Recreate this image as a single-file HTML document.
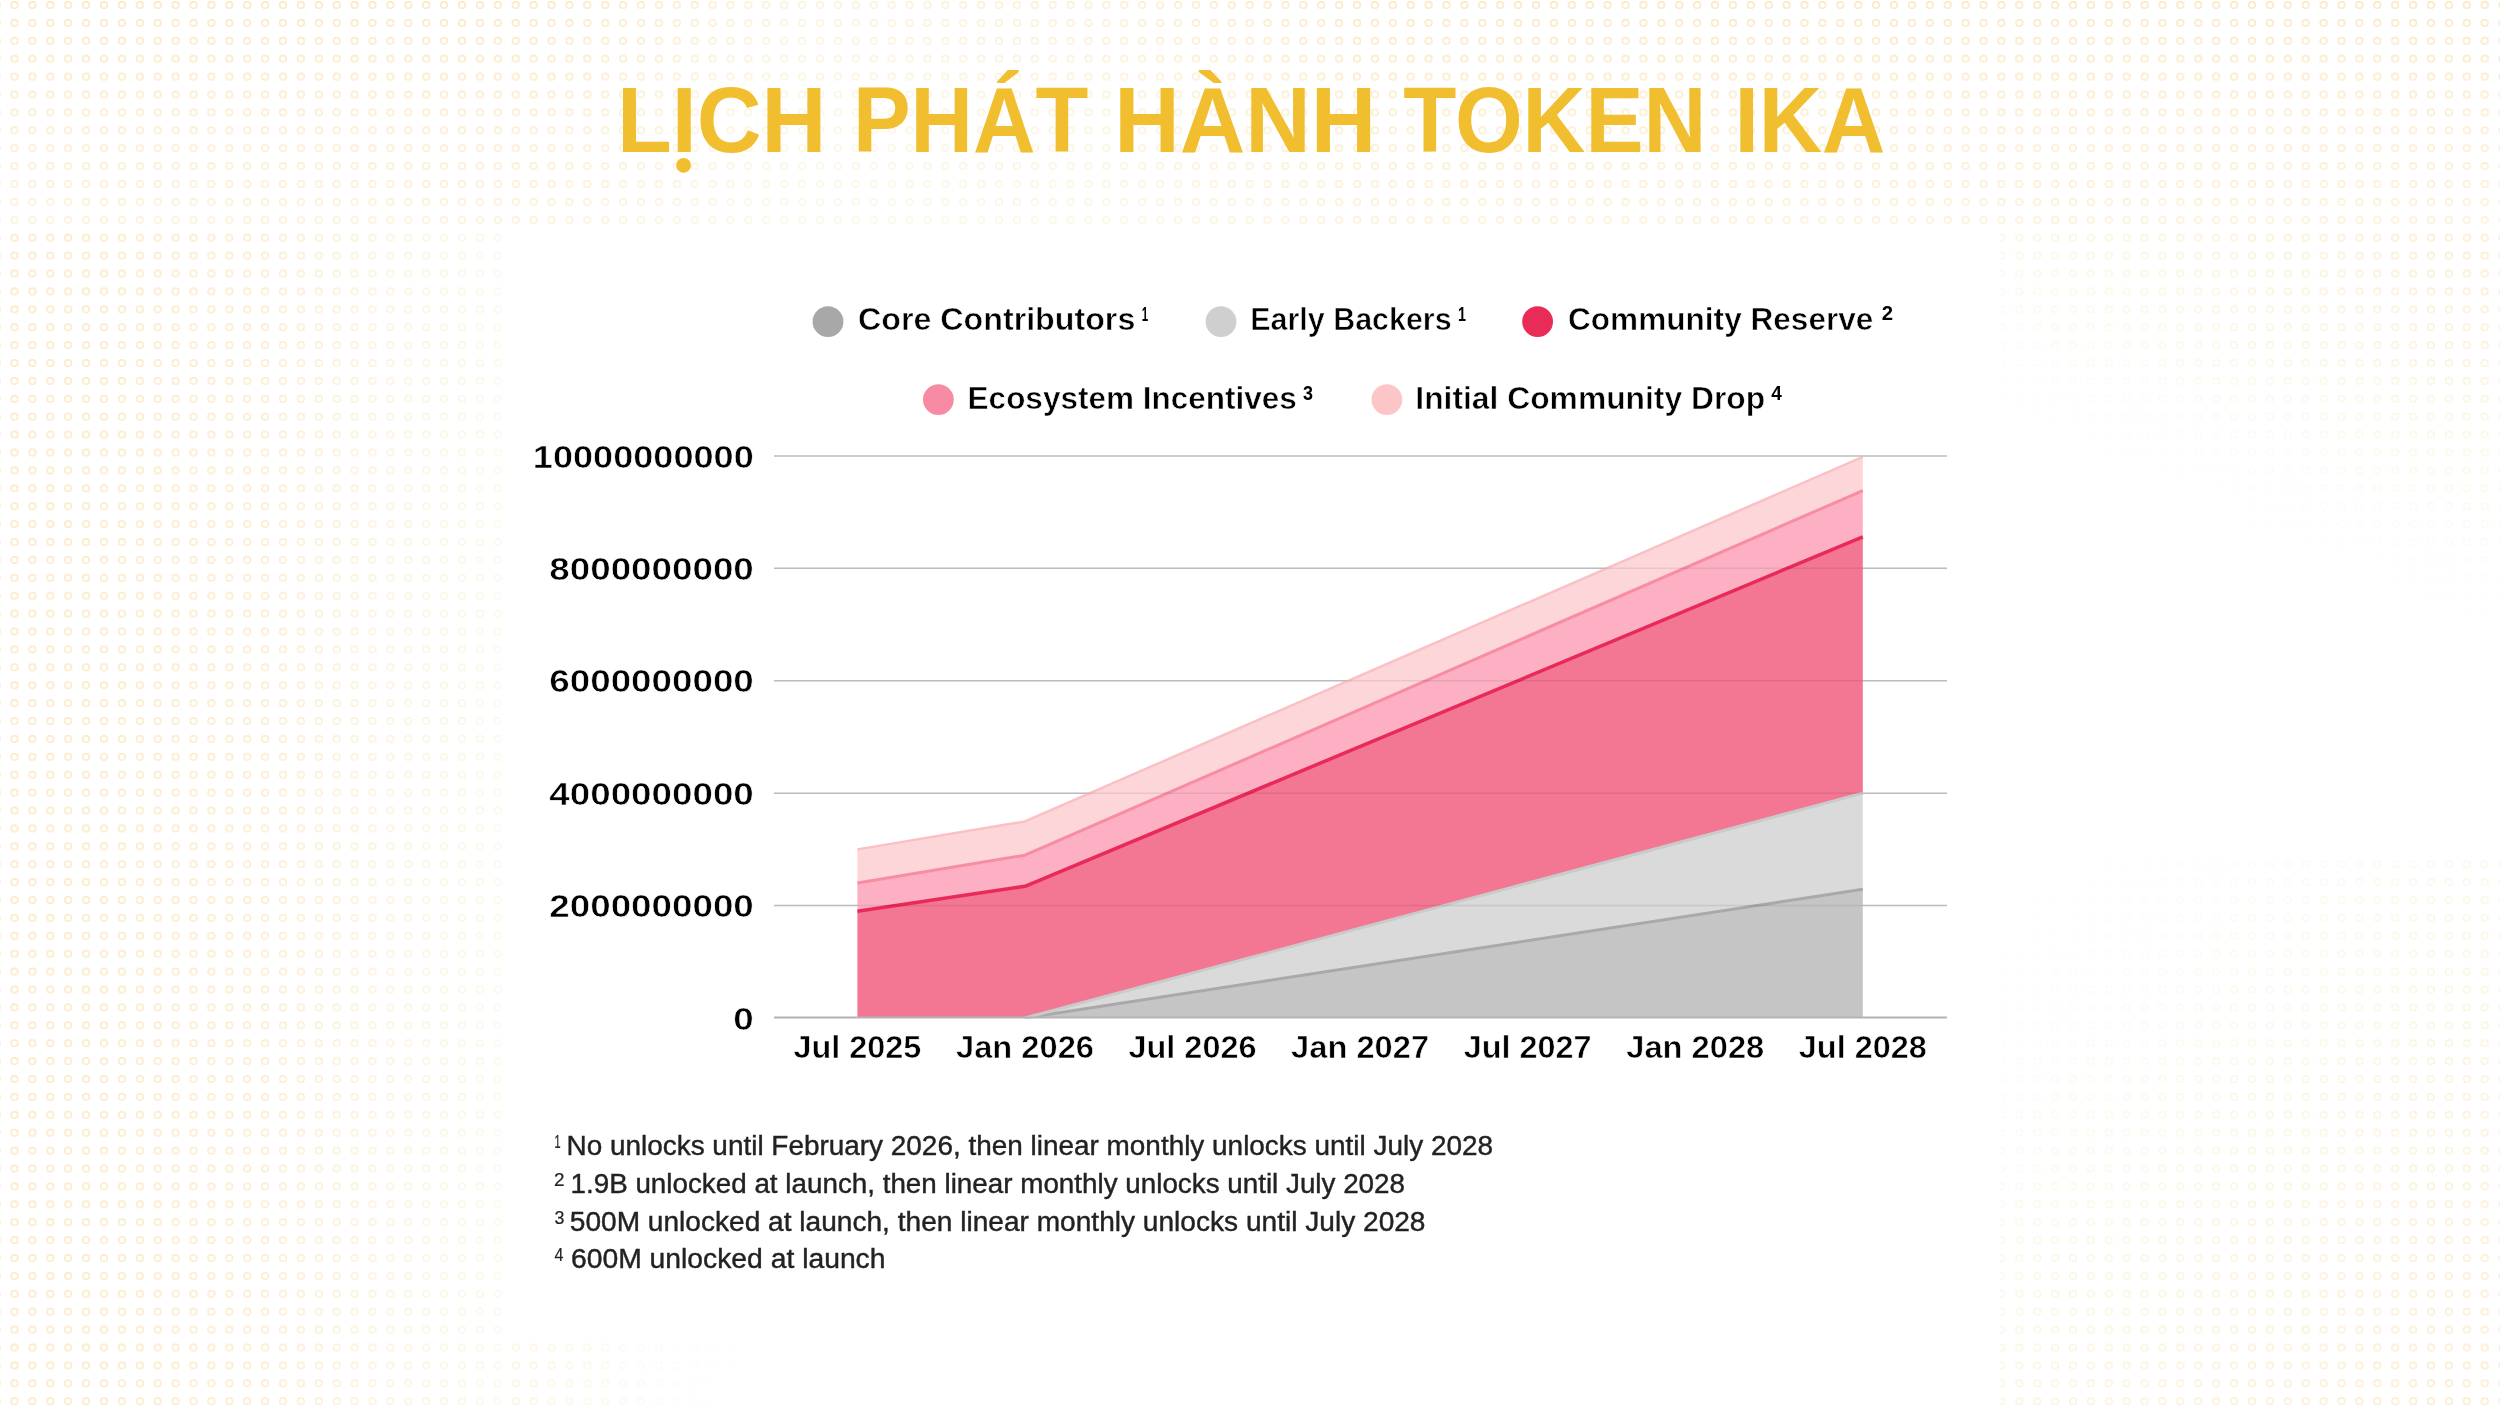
<!DOCTYPE html>
<html>
<head>
<meta charset="utf-8">
<style>
html,body{margin:0;padding:0;}
body{width:2500px;height:1406px;position:relative;overflow:hidden;background:#fff;}
svg{position:absolute;left:0;top:0;}
text{font-family:"Liberation Sans",sans-serif;}
</style>
</head>
<body>
<svg width="2500" height="1406" viewBox="0 0 2500 1406">
  <defs>
    <pattern id="rings" x="5.55" y="-3.95" width="17.9" height="17.9" patternUnits="userSpaceOnUse">
      <circle cx="8.95" cy="8.95" r="3.3" fill="none" stroke="#F2C358" stroke-width="1.5"/>
    </pattern>
    <linearGradient id="gTop" x1="0" y1="0" x2="0" y2="1"><stop offset="0" stop-color="#fff" stop-opacity="1"/><stop offset="1" stop-color="#fff" stop-opacity="0.6"/></linearGradient>
<linearGradient id="gTopH" x1="0" y1="0" x2="1" y2="0"><stop offset="0" stop-color="#000" stop-opacity="0"/><stop offset="0.22" stop-color="#000" stop-opacity="0"/><stop offset="0.32" stop-color="#000" stop-opacity="0.45"/><stop offset="0.45" stop-color="#000" stop-opacity="0.3"/><stop offset="0.55" stop-color="#000" stop-opacity="0"/><stop offset="1" stop-color="#000" stop-opacity="0"/></linearGradient>
<mask id="mTop" maskUnits="userSpaceOnUse" x="0" y="0" width="2500" height="228"><rect x="0" y="0" width="2500" height="228" fill="url(#gTop)"/><rect x="0" y="0" width="2500" height="228" fill="url(#gTopH)"/></mask>
<linearGradient id="gLeft" gradientUnits="userSpaceOnUse" x1="0" y1="0" x2="505" y2="0"><stop offset="0" stop-color="#fff" stop-opacity="0.95"/><stop offset="0.5" stop-color="#fff" stop-opacity="0.8"/><stop offset="1" stop-color="#fff" stop-opacity="0.3"/></linearGradient>
<mask id="mLeft" maskUnits="userSpaceOnUse" x="0" y="228" width="505" height="1178"><rect x="0" y="228" width="505" height="1178" fill="url(#gLeft)"/></mask>
<linearGradient id="gRT" gradientUnits="userSpaceOnUse" x1="2500" y1="200" x2="2300" y2="640"><stop offset="0" stop-color="#fff" stop-opacity="0.9"/><stop offset="0.85" stop-color="#fff" stop-opacity="0"/></linearGradient>
<mask id="mRT" maskUnits="userSpaceOnUse" x="2000" y="228" width="500" height="622"><rect x="2000" y="228" width="500" height="622" fill="url(#gRT)"/></mask>
<linearGradient id="gRB" gradientUnits="userSpaceOnUse" x1="2500" y1="1406" x2="2030" y2="880"><stop offset="0" stop-color="#fff" stop-opacity="0.85"/><stop offset="1" stop-color="#fff" stop-opacity="0"/></linearGradient>
<mask id="mRB" maskUnits="userSpaceOnUse" x="2000" y="850" width="500" height="556"><rect x="2000" y="850" width="500" height="556" fill="url(#gRB)"/></mask>
<linearGradient id="gBL" gradientUnits="userSpaceOnUse" x1="505" y1="0" x2="745" y2="0"><stop offset="0" stop-color="#fff" stop-opacity="0.5"/><stop offset="1" stop-color="#fff" stop-opacity="0"/></linearGradient>
<mask id="mBL" maskUnits="userSpaceOnUse" x="505" y="1340" width="240" height="66"><rect x="505" y="1340" width="240" height="66" fill="url(#gBL)"/></mask>
  </defs>
  <g opacity="0.4">
<rect x="0" y="0" width="2500" height="228" fill="url(#rings)" mask="url(#mTop)"/>
<rect x="0" y="228" width="505" height="1178" fill="url(#rings)" mask="url(#mLeft)"/>
<rect x="2000" y="228" width="500" height="622" fill="url(#rings)" mask="url(#mRT)"/>
<rect x="2000" y="850" width="500" height="556" fill="url(#rings)" mask="url(#mRB)"/>
<rect x="505" y="1340" width="240" height="66" fill="url(#rings)" mask="url(#mBL)"/>
</g>
  <g stroke="#CCCCCC" stroke-width="1.5">
  <line x1="774" y1="455.90" x2="1947" y2="455.90"/><line x1="774" y1="568.32" x2="1947" y2="568.32"/><line x1="774" y1="680.74" x2="1947" y2="680.74"/><line x1="774" y1="793.16" x2="1947" y2="793.16"/><line x1="774" y1="905.58" x2="1947" y2="905.58"/>
  </g>
  <clipPath id="plot"><rect x="700" y="400" width="1300" height="618.5"/></clipPath>
  <g clip-path="url(#plot)">
<path d="M857.40,1018.00 L1024.97,1018.00 L1862.80,889.28 L1862.80,1018.00 L1024.97,1018.00 L857.40,1018.00 Z" fill="#C5C5C5"/>
<path d="M857.40,1018.00 L1024.97,1018.00 L1862.80,793.16 L1862.80,889.28 L1024.97,1018.00 L857.40,1018.00 Z" fill="#DADADA"/>
<path d="M857.40,911.20 L1024.97,886.28 L1862.80,536.84 L1862.80,793.16 L1024.97,1018.00 L857.40,1018.00 Z" fill="#F37692"/>
<path d="M857.40,883.10 L1024.97,855.15 L1862.80,490.58 L1862.80,536.84 L1024.97,886.28 L857.40,911.20 Z" fill="#FDB0C4"/>
<path d="M857.40,849.37 L1024.97,821.42 L1862.80,456.86 L1862.80,490.58 L1024.97,855.15 L857.40,883.10 Z" fill="#FDD6D9"/>
<path d="M1024.97,1018.00 L1862.80,889.28" fill="none" stroke="#A9A9A9" stroke-width="3" stroke-linejoin="round"/>
<path d="M1024.97,1018.00 L1862.80,793.16" fill="none" stroke="#C9CBCA" stroke-width="3" stroke-linejoin="round"/>
<path d="M857.40,911.20 L1024.97,886.28 L1862.80,536.84" fill="none" stroke="#E82A58" stroke-width="3.5" stroke-linejoin="round"/>
<path d="M857.40,883.10 L1024.97,855.15 L1862.80,490.58" fill="none" stroke="#F78CA3" stroke-width="3" stroke-linejoin="round"/>
<path d="M857.40,849.37 L1024.97,821.42 L1862.80,456.86" fill="none" stroke="#FBC0C5" stroke-width="2.5" stroke-linejoin="round"/>
  </g>
  <g stroke="#000" stroke-width="1.5" opacity="0.075">
  <line x1="774" y1="455.90" x2="1947" y2="455.90"/><line x1="774" y1="568.32" x2="1947" y2="568.32"/><line x1="774" y1="680.74" x2="1947" y2="680.74"/><line x1="774" y1="793.16" x2="1947" y2="793.16"/><line x1="774" y1="905.58" x2="1947" y2="905.58"/>
  </g>
  <line x1="774" y1="1017.5" x2="1947" y2="1017.5" stroke="#B3B3B3" stroke-width="2"/>
<text x="616.9" y="152" font-size="93" font-weight="bold" fill="#F0BE2E" text-anchor="start" textLength="209.5" lengthAdjust="spacingAndGlyphs">LICH</text>
<text x="852.9" y="152" font-size="93" font-weight="bold" fill="#F0BE2E" text-anchor="start" textLength="235.3" lengthAdjust="spacingAndGlyphs">PHÁT</text>
<text x="1114.2" y="152" font-size="93" font-weight="bold" fill="#F0BE2E" text-anchor="start" textLength="262.2" lengthAdjust="spacingAndGlyphs">HÀNH</text>
<text x="1403.3" y="152" font-size="93" font-weight="bold" fill="#F0BE2E" text-anchor="start" textLength="303.1" lengthAdjust="spacingAndGlyphs">TOKEN</text>
<text x="1734.4" y="152" font-size="93" font-weight="bold" fill="#F0BE2E" text-anchor="start" textLength="151.1" lengthAdjust="spacingAndGlyphs">IKA</text>
<circle cx="683.6" cy="165.3" r="7.4" fill="#F0BE2E"/>
<circle cx="828" cy="321.6" r="15.4" fill="#A8A8A8"/>
<text x="858" y="329.5" font-size="31" font-weight="bold" fill="#000" text-anchor="start" textLength="277.3" lengthAdjust="spacingAndGlyphs" stroke="#fff" stroke-width="0.55">Core Contributors</text>
<text x="1141.8" y="320.7" font-size="20.5" font-weight="bold" fill="#000" text-anchor="start" textLength="6.4" lengthAdjust="spacingAndGlyphs">1</text>
<circle cx="1221" cy="321.6" r="15.4" fill="#CFCFCF"/>
<text x="1250.3" y="329.5" font-size="31" font-weight="bold" fill="#000" text-anchor="start" textLength="201.3" lengthAdjust="spacingAndGlyphs" stroke="#fff" stroke-width="0.55">Early Backers</text>
<text x="1458.0" y="320.7" font-size="20.5" font-weight="bold" fill="#000" text-anchor="start" textLength="8.0" lengthAdjust="spacingAndGlyphs">1</text>
<circle cx="1537.6" cy="321.6" r="15.4" fill="#E92B58"/>
<text x="1568" y="329.5" font-size="31" font-weight="bold" fill="#000" text-anchor="start" textLength="305.4" lengthAdjust="spacingAndGlyphs" stroke="#fff" stroke-width="0.55">Community Reserve</text>
<text x="1881.7" y="320.4" font-size="20.5" font-weight="bold" fill="#000" text-anchor="start" textLength="11.3" lengthAdjust="spacingAndGlyphs">2</text>
<circle cx="938.4" cy="399.6" r="15.4" fill="#F78BA3"/>
<text x="967.6" y="409" font-size="31" font-weight="bold" fill="#000" text-anchor="start" textLength="329.2" lengthAdjust="spacingAndGlyphs" stroke="#fff" stroke-width="0.55">Ecosystem Incentives</text>
<text x="1303.1" y="399.5" font-size="20.5" font-weight="bold" fill="#000" text-anchor="start" textLength="10.0" lengthAdjust="spacingAndGlyphs">3</text>
<circle cx="1386.9" cy="399.6" r="15.4" fill="#FCC5C8"/>
<text x="1415.3" y="409" font-size="31" font-weight="bold" fill="#000" text-anchor="start" textLength="349.9" lengthAdjust="spacingAndGlyphs" stroke="#fff" stroke-width="0.55">Initial Community Drop</text>
<text x="1771.3" y="399.6" font-size="20.5" font-weight="bold" fill="#000" text-anchor="start" textLength="10.6" lengthAdjust="spacingAndGlyphs">4</text>
<text x="753.8" y="467.6" font-size="31" font-weight="bold" fill="#000" text-anchor="end" textLength="221" lengthAdjust="spacingAndGlyphs" stroke="#fff" stroke-width="0.55">10000000000</text>
<text x="753.8" y="580.0" font-size="31" font-weight="bold" fill="#000" text-anchor="end" textLength="204.5" lengthAdjust="spacingAndGlyphs" stroke="#fff" stroke-width="0.55">8000000000</text>
<text x="753.8" y="692.4" font-size="31" font-weight="bold" fill="#000" text-anchor="end" textLength="204.5" lengthAdjust="spacingAndGlyphs" stroke="#fff" stroke-width="0.55">6000000000</text>
<text x="753.8" y="804.8" font-size="31" font-weight="bold" fill="#000" text-anchor="end" textLength="204.5" lengthAdjust="spacingAndGlyphs" stroke="#fff" stroke-width="0.55">4000000000</text>
<text x="753.8" y="917.2" font-size="31" font-weight="bold" fill="#000" text-anchor="end" textLength="204.5" lengthAdjust="spacingAndGlyphs" stroke="#fff" stroke-width="0.55">2000000000</text>
<text x="753.8" y="1029.6" font-size="31" font-weight="bold" fill="#000" text-anchor="end" textLength="20.45" lengthAdjust="spacingAndGlyphs" stroke="#fff" stroke-width="0.55">0</text>
<text x="857.4" y="1058" font-size="31" font-weight="bold" fill="#000" text-anchor="middle" textLength="128" lengthAdjust="spacingAndGlyphs" stroke="#fff" stroke-width="0.55">Jul 2025</text>
<text x="1024.97" y="1058" font-size="31" font-weight="bold" fill="#000" text-anchor="middle" textLength="138" lengthAdjust="spacingAndGlyphs" stroke="#fff" stroke-width="0.55">Jan 2026</text>
<text x="1192.53" y="1058" font-size="31" font-weight="bold" fill="#000" text-anchor="middle" textLength="128" lengthAdjust="spacingAndGlyphs" stroke="#fff" stroke-width="0.55">Jul 2026</text>
<text x="1360.1" y="1058" font-size="31" font-weight="bold" fill="#000" text-anchor="middle" textLength="138" lengthAdjust="spacingAndGlyphs" stroke="#fff" stroke-width="0.55">Jan 2027</text>
<text x="1527.67" y="1058" font-size="31" font-weight="bold" fill="#000" text-anchor="middle" textLength="128" lengthAdjust="spacingAndGlyphs" stroke="#fff" stroke-width="0.55">Jul 2027</text>
<text x="1695.23" y="1058" font-size="31" font-weight="bold" fill="#000" text-anchor="middle" textLength="138" lengthAdjust="spacingAndGlyphs" stroke="#fff" stroke-width="0.55">Jan 2028</text>
<text x="1862.8" y="1058" font-size="31" font-weight="bold" fill="#000" text-anchor="middle" textLength="128" lengthAdjust="spacingAndGlyphs" stroke="#fff" stroke-width="0.55">Jul 2028</text>
<text x="554.4" y="1148.0" font-size="17.5" font-weight="normal" fill="#222222" text-anchor="start" textLength="6.1" lengthAdjust="spacingAndGlyphs" stroke="#222" stroke-width="0.2">1</text>
<text x="566.5" y="1155.0" font-size="27" font-weight="normal" fill="#222222" text-anchor="start" textLength="926.5" lengthAdjust="spacingAndGlyphs" stroke="#222" stroke-width="0.4">No unlocks until February 2026, then linear monthly unlocks until July 2028</text>
<text x="554.0" y="1186.4" font-size="17.5" font-weight="normal" fill="#222222" text-anchor="start" textLength="10.5" lengthAdjust="spacingAndGlyphs" stroke="#222" stroke-width="0.2">2</text>
<text x="570.5" y="1192.8" font-size="27" font-weight="normal" fill="#222222" text-anchor="start" textLength="834.5" lengthAdjust="spacingAndGlyphs" stroke="#222" stroke-width="0.4">1.9B unlocked at launch, then linear monthly unlocks until July 2028</text>
<text x="554.6" y="1223.6" font-size="17.5" font-weight="normal" fill="#222222" text-anchor="start" textLength="9.9" lengthAdjust="spacingAndGlyphs" stroke="#222" stroke-width="0.2">3</text>
<text x="569.8" y="1230.6" font-size="27" font-weight="normal" fill="#222222" text-anchor="start" textLength="855.7" lengthAdjust="spacingAndGlyphs" stroke="#222" stroke-width="0.4">500M unlocked at launch, then linear monthly unlocks until July 2028</text>
<text x="554.6" y="1261.0" font-size="17.5" font-weight="normal" fill="#222222" text-anchor="start" textLength="8.9" lengthAdjust="spacingAndGlyphs" stroke="#222" stroke-width="0.2">4</text>
<text x="571" y="1268.4" font-size="27" font-weight="normal" fill="#222222" text-anchor="start" textLength="314.5" lengthAdjust="spacingAndGlyphs" stroke="#222" stroke-width="0.4">600M unlocked at launch</text>
</svg>
</body>
</html>
